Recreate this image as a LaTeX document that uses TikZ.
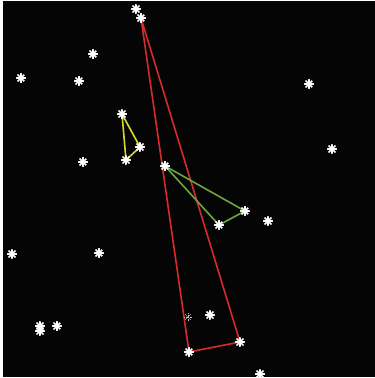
\documentclass[tikz,border=0pt]{standalone}
\pgfdeclarelayer{background}
\pgfsetlayers{background,main}
\definecolor{rline}{HTML}{D62B2B}
\definecolor{yline}{HTML}{D9D534}
\definecolor{gline}{HTML}{6BA83C}
\tikzset{
  starnode/.style={circle, inner sep=0pt, minimum size=10pt,
    path picture={\foreach \a in {0,45,...,315}
      \draw[white, line width=1.5pt, line cap=round] (path picture bounding box.center) -- ++(\a:4.6pt);}},
  dimstar/.style={circle, inner sep=0pt, minimum size=9pt,
    path picture={\foreach \a in {0,45,...,315}
      \draw[gray!45, line width=0.5pt, dash pattern=on 0.8pt off 0.8pt] (path picture bounding box.center) -- ++(\a:4pt);}},
  edge/.style={line width=1.6pt},
}
\begin{document}
\begin{tikzpicture}[x=1pt,y=-1pt]
\useasboundingbox (0,0) rectangle (375,378);
\begin{pgfonlayer}{background}
\fill[white] (0,0) rectangle (375,378);
\fill[black!98] (3,1) rectangle (375,377);
\end{pgfonlayer}
\node[starnode] (s1) at (136,9) {};
\node[starnode] (r1) at (141,18) {};
\node[starnode] (s3) at (93,54) {};
\node[starnode] (s4) at (21,78) {};
\node[starnode] (s5) at (79,81) {};
\node[starnode] (y1) at (122,114) {};
\node[starnode] (y2) at (140,147) {};
\node[starnode] (y3) at (126,160) {};
\node[starnode] (s9) at (83,162) {};
\node[starnode] (g1) at (165,166) {};
\node[starnode] (g2) at (245,211) {};
\node[starnode] (g3) at (219,225) {};
\node[starnode] (s13) at (268,221) {};
\node[starnode] (s14) at (309,84) {};
\node[starnode] (s15) at (332,149) {};
\node[starnode] (s16) at (12,254) {};
\node[starnode] (s17) at (99,253) {};
\node[starnode] (s18) at (40,326) {};
\node[starnode] (s19) at (40,331) {};
\node[starnode] (s20) at (57,326) {};
\node[starnode] (s21) at (210,315) {};
\node[starnode] (r2) at (189,352) {};
\node[starnode] (r3) at (240,342) {};
\node[starnode] (s24) at (260,374) {};
\node[dimstar] (s25) at (188,317) {};
\begin{pgfonlayer}{background}
\draw[edge, rline] (r1.center) -- (r2.center) -- (r3.center) -- cycle;
\draw[edge, yline] (y1.center) -- (y2.center) -- (y3.center) -- cycle;
\draw[edge, gline] (g1.center) -- (g2.center) -- (g3.center) -- cycle;
\end{pgfonlayer}
\end{tikzpicture}
\end{document}
